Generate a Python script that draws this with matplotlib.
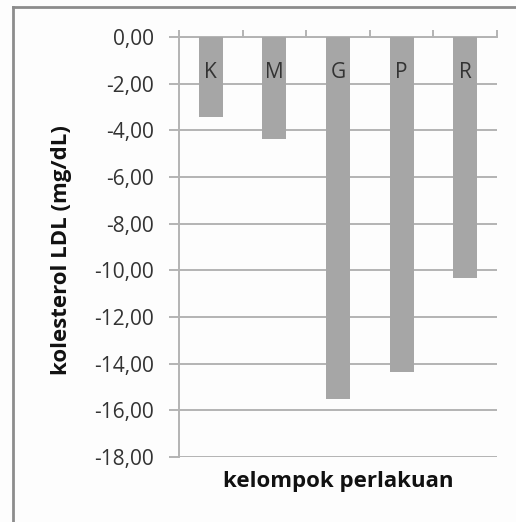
import matplotlib
matplotlib.use("Agg")
import matplotlib.pyplot as plt
from matplotlib.lines import Line2D

categories = ["K", "M", "G", "P", "R"]
values = [-3.42, -4.39, -15.50, -14.36, -10.34]
yticks = [0, -2, -4, -6, -8, -10, -12, -14, -16, -18]
ytick_labels = ["0,00", "-2,00", "-4,00", "-6,00", "-8,00", "-10,00", "-12,00", "-14,00", "-16,00", "-18,00"]

plt.rcParams['font.family'] = ['Open Sans', 'DejaVu Sans']

W, H = 516, 522
fig = plt.figure(figsize=(W / 100, H / 100), dpi=100)
fig.patch.set_facecolor('#fdfdfd')
ax = fig.add_axes([179 / W, 1 - 457 / H, (497 - 179) / W, (457 - 37) / H])
ax.set_facecolor('#fdfdfd')

x = list(range(len(categories)))
ax.bar(x, values, width=0.38, color='#a6a6a6', zorder=3)
for xi, c in zip(x, categories):
    ax.text(xi, -1.5, c, ha='center', va='center', fontsize=15, color='#333333', zorder=4)

ax.set_xlim(-0.5, len(categories) - 0.5)
ax.set_ylim(-18, 0)
ax.set_yticks(yticks)
ax.set_yticklabels(ytick_labels, fontsize=15, color='#333333')
ax.yaxis.grid(True, color='#b3b3b3', linewidth=1.4, zorder=0)
ax.tick_params(axis='y', length=7, color='#b3b3b3', width=1.4, pad=11)

ax.xaxis.tick_top()
ax.set_xticks([i - 0.5 for i in range(len(categories) + 1)])
ax.set_xticklabels([])
ax.tick_params(axis='x', length=5, color='#b3b3b3', width=1.4, direction='out')

for s in ['right', 'bottom']:
    ax.spines[s].set_visible(False)
ax.spines['left'].set_color('#b3b3b3')
ax.spines['left'].set_linewidth(1.4)
ax.spines['top'].set_color('#b3b3b3')
ax.spines['top'].set_linewidth(1.4)

fig.text(62 / W, 1 - 250 / H, "kolesterol LDL (mg/dL)", rotation=90, ha='center', va='center',
         fontsize=16, fontweight='bold', color='#111111')
fig.text(338 / W, 1 - 482 / H, "kelompok perlakuan", ha='center', va='center',
         fontsize=16, fontweight='bold', color='#111111')

# outer frame
fig.add_artist(Line2D([13 / W, 13 / W], [0, 1 - 7 / H], transform=fig.transFigure, color='#8c8c8c', linewidth=2))
fig.add_artist(Line2D([13 / W, 1], [1 - 7 / H, 1 - 7 / H], transform=fig.transFigure, color='#8c8c8c', linewidth=2))

fig.savefig("out.png", dpi=100, facecolor=fig.get_facecolor())
